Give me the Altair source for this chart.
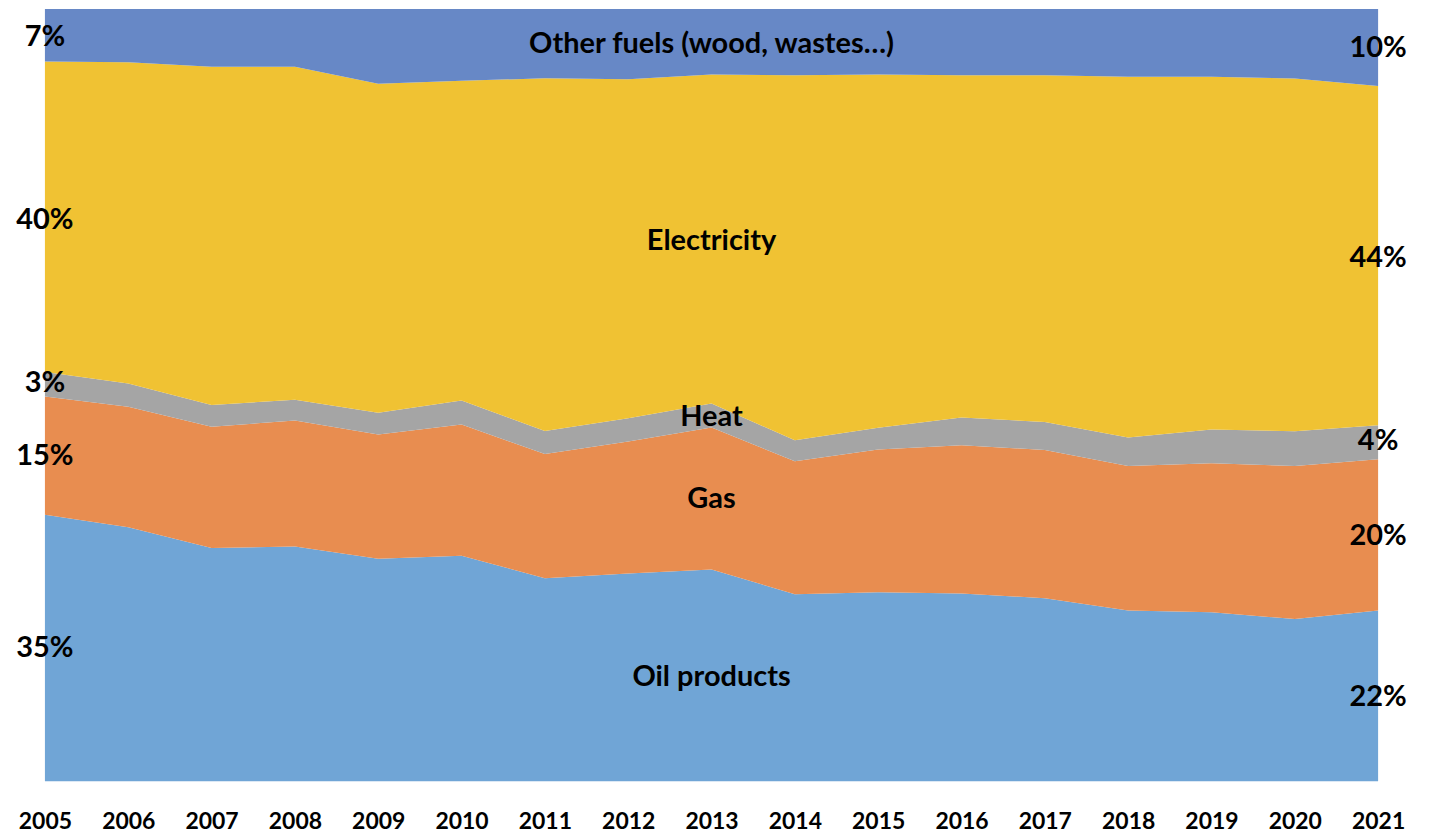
import altair as alt
import pandas as pd

years = list(range(2005, 2022))
oil = [34.5, 32.9, 30.2, 30.4, 28.8, 29.2, 26.3, 26.9, 27.4, 24.2, 24.5, 24.3, 23.7, 22.1, 21.9, 21.0, 22.1]
gas = [15.3, 15.6, 15.7, 16.3, 16.1, 17.0, 16.1, 17.1, 18.4, 17.2, 18.5, 19.2, 19.2, 18.7, 19.3, 19.8, 19.6]
heat = [3.2, 3.0, 2.8, 2.7, 2.8, 3.1, 3.0, 3.0, 3.1, 2.7, 2.8, 3.6, 3.6, 3.7, 4.4, 4.5, 4.4]
electricity = [40.2, 41.6, 43.8, 43.1, 42.6, 41.4, 45.7, 43.9, 42.6, 47.2, 45.8, 44.3, 44.9, 46.7, 45.7, 45.7, 43.9]
other = [6.8, 6.9, 7.5, 7.5, 9.7, 9.3, 9.0, 9.1, 8.5, 8.6, 8.5, 8.6, 8.6, 8.8, 8.8, 9.0, 10.0]

series_names = ["Oil products", "Gas", "Heat", "Electricity", "Other fuels"]
series_values = [oil, gas, heat, electricity, other]
series_colors = ["#70A5D6", "#E88D50", "#A5A5A5", "#F0C233", "#6788C6"]

# annotation labels
label_texts = ["7%", "40%", "3%", "15%", "35%",
               "10%", "44%", "4%", "20%", "22%",
               "Other fuels (wood, wastes\u2026)", "Electricity", "Heat", "Gas", "Oil products"]
label_years = [2005] * 5 + [2021] * 5 + [2013] * 5
label_pos = [0.964, 0.727, 0.515, 0.421, 0.172,
             0.949, 0.678, 0.440, 0.318, 0.109,
             0.955, 0.700, 0.472, 0.366, 0.135]

rows = []
for i, (name, vals) in enumerate(zip(series_names, series_values)):
    for y, v in zip(years, vals):
        rows.append({"year": y, "series": name, "value": v, "ord": i})
df = pd.DataFrame(rows)

lab = pd.DataFrame({"year": label_years, "text": label_texts, "pos": label_pos})

x_enc = alt.X("year:Q",
              scale=alt.Scale(domain=[2005, 2021], nice=False, zero=False),
              axis=alt.Axis(values=years, format="d", title=None, domain=False, ticks=False,
                            grid=False, labelFontSize=23, labelFontWeight="bold",
                            labelFont="Lato", labelColor="#000000", labelPadding=29,
                            labelFlush=False, labelOverlap=False))

area = alt.Chart(df).mark_area(opacity=1).encode(
    x=x_enc,
    y=alt.Y("value:Q", stack="normalize",
            scale=alt.Scale(domain=[0, 1], nice=False), axis=None),
    color=alt.Color("series:N", scale=alt.Scale(domain=series_names, range=series_colors),
                    legend=None),
    order=alt.Order("ord:Q", sort="ascending"),
)

text = alt.Chart(lab).mark_text(font="Lato", fontWeight="bold", fontSize=29,
                                color="#000000", align="center", baseline="middle").encode(
    x=alt.X("year:Q"),
    y=alt.Y("pos:Q", scale=alt.Scale(domain=[0, 1], nice=False)),
    text="text:N",
)

chart = (area + text).properties(
    width=1336, height=774,
    padding={"left": 37, "top": 0, "right": 50, "bottom": 60},
    autosize=alt.AutoSizeParams(type="none"),
).configure_view(stroke=None)

chart.save("out.html", embed_options={"renderer": "svg", "actions": False})
